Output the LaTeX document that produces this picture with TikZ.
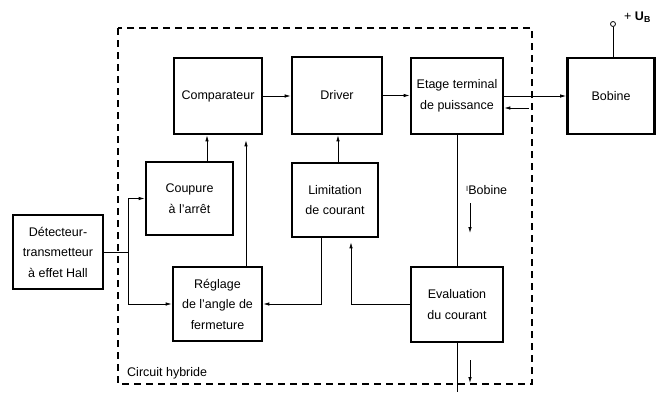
\documentclass[tikz,border=0pt]{standalone}
\usepackage{fontspec}
\setmainfont{Liberation Sans}
\usetikzlibrary{arrows.meta}
\begin{document}
\begin{tikzpicture}[x=1pt,y=-1pt,
  box/.style={draw,line width=2.6pt,inner sep=0pt,align=center,
    font=\fontsize{12.5}{20.5}\selectfont},
  arr/.style={line width=0.8pt,-{Latex[length=6pt,width=3.5pt]}},
  ln/.style={line width=0.8pt},
  frame/.style={line width=1.1pt,dash pattern=on 7pt off 5pt},
  lbl/.style={font=\fontsize{12.5}{14}\selectfont,inner sep=0pt}]
\useasboundingbox (0,0) rectangle (657,392);
\draw[frame] (118,28) rectangle (532,384);
\node[lbl,anchor=west] (ch) at (127,373) {Circuit hybride};

\node[box,minimum width=88,minimum height=76] (comp) at (218,96) {Comparateur};
\node[box,minimum width=90,minimum height=77] (drv) at (337,95.5) {Driver};
\node[box,minimum width=92,minimum height=76] (etage) at (457,96) {Etage terminal\\de puissance};
\node[box,minimum width=87,minimum height=76] (bob) at (611,96) {Bobine};
\node[box,minimum width=87,minimum height=73] (coup) at (189.5,198.5) {Coupure\\à l'arrêt};
\node[box,minimum width=86,minimum height=74] (lim) at (335,200) {Limitation\\de courant};
\node[box,minimum width=89,minimum height=74] (reg) at (217.5,304) {Réglage\\de l'angle de\\fermeture};
\node[box,minimum width=90,minimum height=74] (det) at (58,252) {Détecteur-\\transmetteur\\à effet Hall};
\node[box,minimum width=92,minimum height=75] (eval) at (457,304.5) {Evaluation\\du courant};

\node[circle,draw,line width=0.8pt,inner sep=0pt,minimum size=5pt] (ub) at (613,24) {};
\node[lbl,anchor=west] (ubl) at (624,17) {+ \textbf{U}\textsubscript{\textbf{B}}};
\draw[ln] (ub) -- (ub |- bob.north);

\coordinate (bx) at (128,0);
\coordinate (ret) at (529,108);
\coordinate (bot) at (0,392);

\draw[arr] (comp.east) -- (comp.east -| drv.west);
\draw[arr] (drv.east) -- (drv.east -| etage.west);
\draw[arr] (etage.east) -- (etage.east -| bob.west);
\draw[arr] (ret) -- (ret -| etage.east);
\draw[arr] ([xshift=17.5]coup.north) -- ([xshift=17.5]coup.north |- comp.south);
\draw[arr,shorten >=5pt] ([xshift=28.5]reg.north) -- ([xshift=28.5]reg.north |- comp.south);
\draw[arr] ([xshift=3]lim.north) -- ([xshift=3]lim.north |- drv.south);
\draw[ln] (det.east) -- (det.east -| bx);
\draw[arr] (det.east -| bx) |- (coup.west);
\draw[arr] (det.east -| bx) |- (reg.west);
\draw[arr] ([xshift=-14]lim.south) |- (reg.east);
\draw[arr,shorten >=4pt] (eval.west) -| ([xshift=16]lim.south);
\draw[ln] (etage.south) -- (eval.north);
\draw[ln] (eval.south) -- (eval.south |- bot);

\coordinate (ia) at (470,203);
\coordinate (ib) at (470,233);
\coordinate (ic) at (470,360);
\coordinate (id) at (470,383);
\draw[arr] (ia) -- (ib);
\draw[arr] (ic) -- (id);
\node[lbl,anchor=west] (ibl) at (466,190) {\raisebox{3pt}{\fontsize{7.5}{8}\selectfont I}Bobine};
\end{tikzpicture}
\end{document}
